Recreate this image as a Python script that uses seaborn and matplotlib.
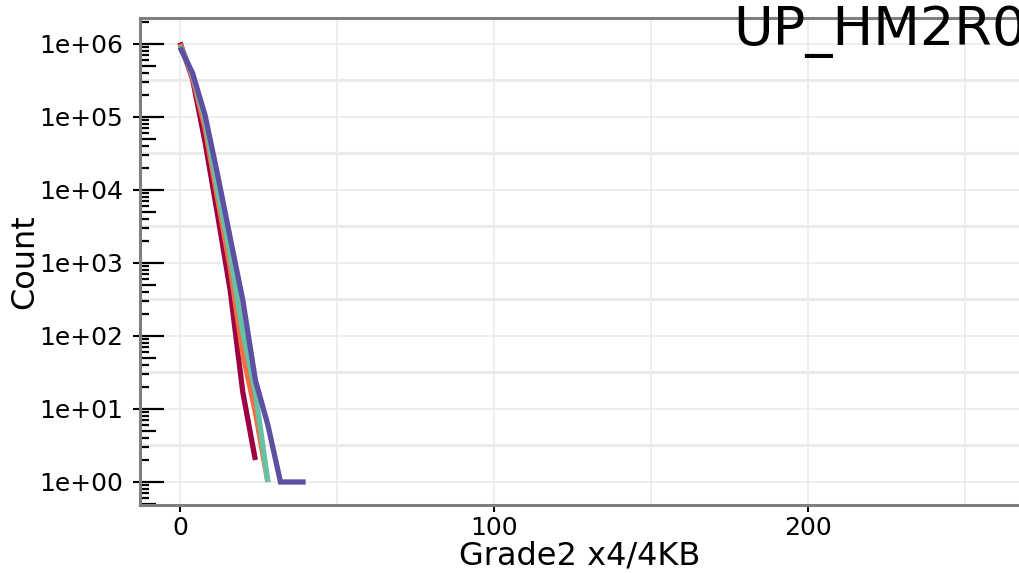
import numpy as np
import pandas as pd
import seaborn as sns
import matplotlib
matplotlib.use("Agg")
from matplotlib import pyplot as plt
from matplotlib.ticker import FixedLocator, FuncFormatter, MultipleLocator
from matplotlib.transforms import blended_transform_factory

# values (x = Grade2 x4/4KB, y = count)
grade = [0, 4, 8, 12, 16, 20, 24, 28, 32, 36, 40]
red_counts = [1.05e6, 3.3e5, 4.5e4, 4.5e3, 420, 17, 2]
orange_counts = [1.0e6, 3.5e5, 7.0e4, 7.5e3, 850, 57, 9, 1]
teal_counts = [9.5e5, 3.8e5, 9.0e4, 9.8e3, 1300, 113, 17, 1]
purple_counts = [9.0e5, 4.0e5, 1.05e5, 1.6e4, 2200, 310, 25, 6, 1, 1, 1]

series_names = ["s1", "s2", "s3", "s4"]
series_colors = ["#9E0142", "#F46D43", "#66C2A5", "#5E4FA2"]

frames = []
for name, vals in zip(series_names, [red_counts, orange_counts, teal_counts, purple_counts]):
    frames.append(pd.DataFrame({"grade": grade[:len(vals)], "count": vals, "series": name}))
df = pd.concat(frames, ignore_index=True)

sns.set_theme(style="white")
plt.rcParams['font.family'] = ['DejaVu Sans']

W, H = 1019, 573
fig = plt.figure(figsize=(W / 100, H / 100), dpi=100)
ax = fig.add_axes([140 / W, 1 - 505 / H, 879 / W, 487 / H])

sns.lineplot(data=df, x="grade", y="count", hue="series", hue_order=series_names,
             palette=series_colors, linewidth=3.8, legend=False, ax=ax,
             estimator=None, sort=False)
for line in ax.lines:
    line.set_solid_capstyle("butt")
    line.set_solid_joinstyle("miter")

ax.set_yscale("log")
ax.set_xlim(-12.74, 267.2)
ax.set_ylim(0.484, 2.27e6)

decades = [10.0 ** k for k in range(0, 7)]
small = [m * 10.0 ** k for k in range(-1, 7) for m in (2, 3, 4, 6, 7, 8, 9)]
fives = [5 * 10.0 ** k for k in range(-1, 7)]
halves = [10.0 ** (k + 0.5) for k in range(-1, 7)]

# grid
ax.set_axisbelow(True)
ax.xaxis.set_major_locator(MultipleLocator(100))
ax.xaxis.set_minor_locator(MultipleLocator(50))
ax.grid(which="both", axis="x", color="#ebebeb", lw=1.2)
ax.yaxis.set_major_locator(FixedLocator(decades))
ax.yaxis.set_minor_locator(FixedLocator([]))
ax.yaxis.set_major_formatter(FuncFormatter(lambda v, p: f"{v:.0e}"))
ax.grid(which="major", axis="y", color="#ebebeb", lw=1.2)
for h in halves:
    ax.axhline(h, color="#ebebeb", lw=2.2, zorder=0)

# outside ticks
ax.tick_params(axis="y", which="major", direction="out", length=5, width=1.5,
               color="black", labelcolor="black", pad=7, labelsize=18, left=True)
ax.tick_params(axis="x", which="major", direction="out", length=5, width=1.5,
               color="black", labelcolor="black", pad=3, labelsize=18, bottom=True)
ax.tick_params(axis="x", which="minor", length=0)

# log tick marks drawn inside the panel (long / medium / short)
trans = blended_transform_factory(ax.transAxes, ax.transData)
for vals, frac in [(decades, 24 / 879), (fives, 16 / 879), (small, 9 / 879)]:
    ax.hlines(vals, 0, frac, transform=trans, color="black", lw=1.6, zorder=5, clip_on=True)

for side in ["left", "bottom", "top"]:
    ax.spines[side].set_color("#7f7f7f")
    ax.spines[side].set_linewidth(2.2)
    ax.spines[side].set_zorder(6)
ax.spines["right"].set_visible(False)

ax.set_xlabel("Grade2 x4/4KB", fontsize=23, color="black")
ax.set_ylabel("Count", fontsize=23, color="black")
ax.xaxis.set_label_coords(0.5, -0.072)
ax.yaxis.set_label_coords(-0.114, 0.5)

fig.text(733 / W, 1 - 45 / H, "UP_HM2R0", fontsize=39, ha="left", va="baseline", color="black")

fig.savefig("out.png", dpi=100)
